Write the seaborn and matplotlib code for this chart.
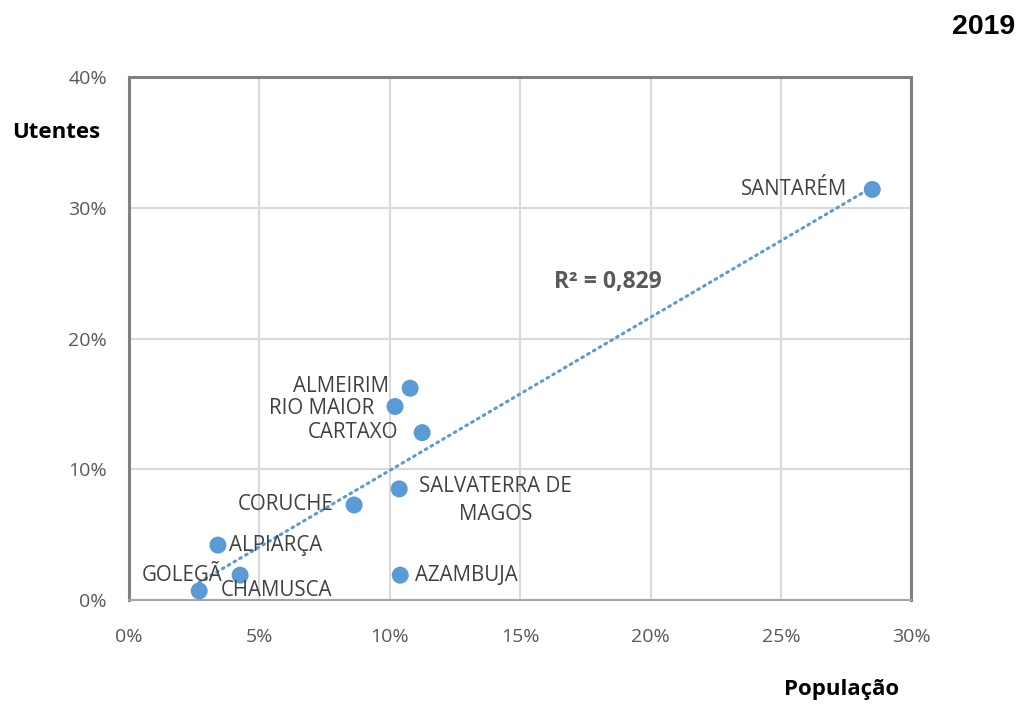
import numpy as np
import pandas as pd
import seaborn as sns
import matplotlib.pyplot as plt
from matplotlib.ticker import PercentFormatter

# values (% of total)
towns = ['SANTARÉM', 'ALMEIRIM', 'RIO MAIOR', 'CARTAXO', 'SALVATERRA DE\nMAGOS',
         'CORUCHE', 'ALPIARÇA', 'CHAMUSCA', 'GOLEGÃ', 'AZAMBUJA']
populacao = [28.5, 10.78, 10.2, 11.24, 10.36, 8.63, 3.41, 4.26, 2.69, 10.4]
utentes = [31.4, 16.2, 14.8, 12.8, 8.5, 7.27, 4.2, 1.9, 0.7, 1.9]
x_ticks = [0, 5, 10, 15, 20, 25, 30]
y_ticks = [0, 10, 20, 30, 40]

# label placement: (dx px, dy px, ha, va)
label_pos = {
    'SANTARÉM': (-25, 0, 'right', 'center'),
    'ALMEIRIM': (-21, 2, 'right', 'center'),
    'RIO MAIOR': (-21, -2, 'right', 'center'),
    'CARTAXO': (-24, 0, 'right', 'center'),
    'SALVATERRA DE\nMAGOS': (96, -12, 'center', 'center'),
    'CORUCHE': (-21, 0, 'right', 'center'),
    'ALPIARÇA': (11, 0, 'left', 'center'),
    'CHAMUSCA': (-19, -15, 'left', 'center'),
    'GOLEGÃ': (23, 15, 'right', 'center'),
    'AZAMBUJA': (15, 0, 'left', 'center'),
}

df = pd.DataFrame({'town': towns, 'pop': populacao, 'ut': utentes})

sns.set_style('white')
plt.rcParams['font.family'] = ['Open Sans', 'DejaVu Sans']

blue = '#5B9BD5'
fig = plt.figure(figsize=(10.24, 7.04), dpi=100)
ax = fig.add_axes([0.126, 0.1477, 0.764, 0.7429])

sns.regplot(data=df, x='pop', y='ut', ax=ax, ci=None,
            scatter_kws=dict(s=150, color=blue, edgecolor='none', alpha=1, zorder=3),
            line_kws=dict(color=blue, lw=2.2, ls=(0, (0.6, 1.6)), dash_capstyle='round', zorder=2))

for _, r in df.iterrows():
    dx, dy, ha, va = label_pos[r['town']]
    ax.annotate(r['town'], (r['pop'], r['ut']), xytext=(dx, dy), textcoords='offset pixels',
                ha=ha, va=va, fontsize=14.8, color='#404040', linespacing=1.45, zorder=4)

ax.text(0.5435, 0.608, 'R² = 0,829', transform=ax.transAxes, fontsize=16.5,
        fontweight='bold', color='#595959', va='center', ha='left')

ax.set_xlim(0, 30)
ax.set_ylim(0, 40)
ax.set_xticks(x_ticks)
ax.set_yticks(y_ticks)
ax.xaxis.set_major_formatter(PercentFormatter(decimals=0))
ax.yaxis.set_major_formatter(PercentFormatter(decimals=0))
ax.tick_params(labelsize=14, colors='#595959', length=0)
ax.tick_params(axis='x', pad=20)
ax.tick_params(axis='y', pad=16)
ax.grid(True, color='#d9d9d9', lw=1.5)
ax.set_axisbelow(True)
for side in ['top', 'left', 'right', 'bottom']:
    ax.spines[side].set_color('#808080')
    ax.spines[side].set_linewidth(2.2)
ax.spines['bottom'].set_color('#a6a6a6')
ax.spines['bottom'].set_linewidth(1.5)
ax.set_xlabel('')
ax.set_ylabel('')

fig.text(0.012, 0.8125, 'Utentes', fontsize=16, fontweight='bold', color='black', va='center')
fig.text(0.822, 0.02, 'População', fontsize=16, fontweight='bold', color='black', ha='center', va='center')
fig.text(0.991, 0.962, '2019', fontsize=20.5, fontweight='bold', color='black', ha='right', va='center',
         family=['Liberation Sans', 'DejaVu Sans'])

fig.savefig('out.png', dpi=100)
